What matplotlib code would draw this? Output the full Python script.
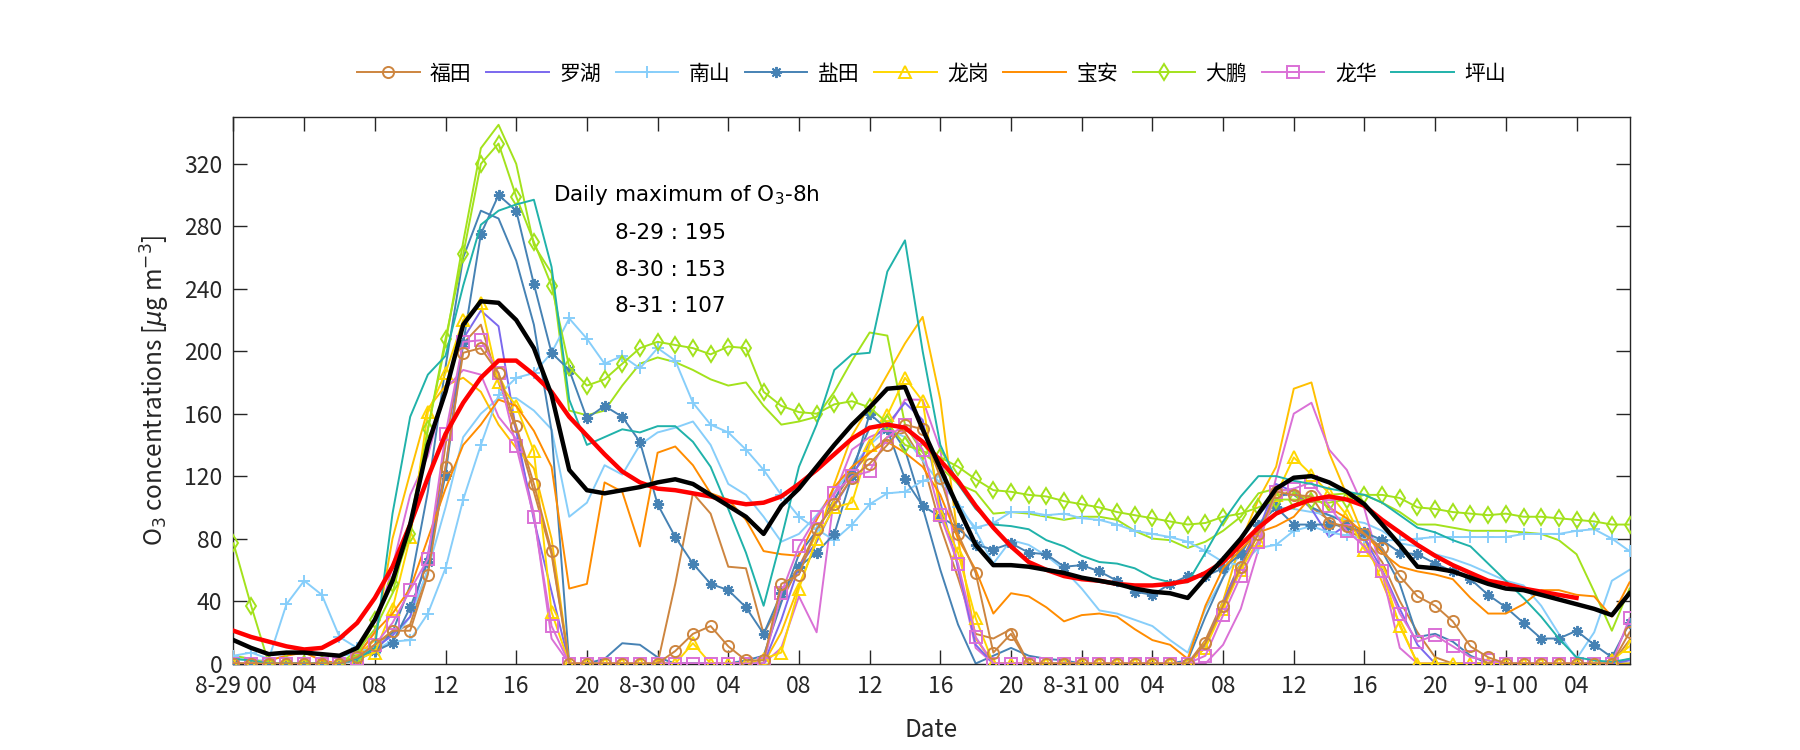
import numpy as np
import matplotlib
matplotlib.use('Agg')
import matplotlib.pyplot as plt

plt.rcParams['font.family'] = ['Liberation Sans Narrow', 'Noto Sans CJK SC', 'DejaVu Sans']

hours = np.arange(80)

# hourly O3 at each station, 8-29 00 .. 9-1 07
futian = [0, 0, 0, 0, 0, 0, 0, 4, 12, 21, 21, 57, 126, 199, 202, 186, 152, 115, 72, 0,
          0, 0, 0, 0, 0, 8, 19, 24, 11, 2, 2, 51, 57, 86, 102, 119, 128, 140, 153, 150,
          119, 83, 58, 7, 19, 0, 0, 0, 0, 0, 0, 0, 0, 0, 0, 13, 37, 62, 83, 110,
          108, 107, 90, 88, 83, 74, 56, 43, 37, 27, 11, 4, 0, 0, 0, 0, 0, 0, 0, 20]
luohu = [0, 0, 0, 0, 0, 0, 0, 3, 10, 18, 30, 70, 125, 208, 226, 216, 149, 92, 46, 0,
         0, 0, 0, 0, 0, 0, 0, 0, 0, 0, 0, 28, 62, 78, 101, 119, 142, 153, 167, 156,
         103, 62, 12, 0, 0, 0, 0, 0, 0, 0, 0, 0, 0, 0, 0, 12, 39, 64, 85, 115,
         110, 99, 81, 89, 80, 60, 35, 12, 0, 0, 0, 0, 0, 0, 0, 0, 0, 0, 0, 2]
nanshan = [5, 7, 3, 38, 53, 44, 17, 10, 7, 14, 15, 32, 61, 105, 140, 172, 183, 186, 199, 221,
           208, 192, 197, 189, 202, 194, 167, 153, 148, 137, 124, 108, 94, 86, 79, 89, 102, 109, 110, 117,
           120, 100, 87, 90, 97, 97, 95, 96, 93, 92, 89, 85, 83, 81, 78, 72, 65, 63, 74, 76,
           85, 88, 84, 82, 80, 79, 79, 80, 81, 81, 81, 81, 81, 83, 83, 83, 85, 86, 80, 72]
yantian = [0, 0, 0, 0, 0, 0, 0, 3, 8, 13, 36, 65, 121, 205, 275, 300, 290, 243, 199, 188,
           157, 165, 158, 142, 102, 81, 64, 51, 47, 36, 19, 45, 62, 71, 83, 120, 160, 150, 118, 101,
           94, 87, 76, 73, 77, 71, 70, 62, 63, 59, 53, 46, 44, 51, 56, 56, 61, 70, 89, 100,
           89, 89, 89, 88, 84, 79, 71, 70, 64, 59, 54, 44, 36, 26, 16, 16, 21, 12, 4, 26]
longgang = [0, 0, 0, 0, 0, 0, 0, 3, 7, 35, 81, 161, 186, 220, 231, 180, 165, 136, 33, 0,
            0, 0, 0, 0, 0, 0, 13, 0, 0, 0, 3, 7, 48, 80, 100, 103, 140, 159, 183, 168,
            96, 71, 29, 0, 0, 0, 0, 0, 0, 0, 0, 0, 0, 0, 0, 10, 35, 60, 79, 108,
            132, 121, 109, 95, 73, 59, 24, 0, 0, 0, 0, 0, 0, 0, 0, 0, 0, 0, 2, 11]
baoan = [0, 0, 2, 5, 7, 2, 0, 5, 20, 32, 48, 80, 112, 140, 153, 169, 165, 149, 126, 48,
         51, 116, 110, 75, 135, 139, 127, 109, 105, 92, 72, 70, 69, 92, 113, 126, 135, 142, 135, 126,
         108, 80, 60, 32, 45, 43, 36, 27, 31, 32, 30, 22, 15, 12, 3, 37, 61, 73, 84, 88,
         94, 107, 100, 93, 83, 71, 62, 59, 57, 54, 42, 32, 32, 38, 47, 47, 44, 43, 30, 52]
dapeng = [77, 37, 0, 0, 0, 0, 0, 5, 28, 51, 83, 150, 208, 262, 320, 333, 299, 270, 242, 190,
          178, 182, 192, 202, 206, 204, 202, 198, 203, 202, 174, 165, 161, 160, 166, 168, 164, 154, 140, 136,
          132, 126, 118, 111, 110, 108, 107, 104, 102, 100, 97, 95, 93, 91, 89, 90, 94, 96, 100, 105,
          105, 104, 103, 105, 108, 108, 106, 100, 99, 97, 96, 95, 96, 94, 94, 93, 92, 91, 89, 89]
longhua = [0, 0, 0, 0, 0, 0, 0, 3, 12, 26, 47, 67, 147, 206, 207, 186, 139, 94, 24, 0,
           0, 0, 0, 0, 0, 0, 0, 0, 0, 0, 0, 45, 75, 94, 109, 120, 123, 145, 153, 137,
           95, 64, 17, 0, 0, 0, 0, 0, 0, 0, 0, 0, 0, 0, 0, 5, 31, 56, 78, 110,
           112, 116, 101, 85, 75, 59, 32, 14, 18, 11, 4, 2, 0, 0, 0, 0, 0, 0, 0, 29]
pingshan = [3, 2, 0, 0, 0, 0, 0, 3, 10, 96, 158, 185, 197, 242, 281, 290, 294, 297, 254, 169,
            140, 145, 150, 148, 152, 152, 142, 126, 99, 71, 37, 80, 126, 153, 188, 198, 199, 251, 271, 200,
            140, 115, 99, 89, 88, 86, 79, 75, 69, 65, 64, 61, 55, 52, 52, 71, 91, 107, 120, 120,
            117, 115, 112, 110, 108, 103, 95, 87, 84, 79, 75, 64, 53, 42, 30, 16, 4, 2, 1, 3]

# second set of curves, same colours, no markers
futian_b = [0, 0, 0, 0, 0, 0, 0, 5, 12, 20, 25, 60, 140, 205, 217, 180, 150, 110, 70, 0,
            0, 0, 0, 0, 0, 51, 109, 96, 62, 61, 19, 40, 62, 85, 105, 122, 135, 145, 148, 130,
            88, 55, 19, 16, 22, 0, 0, 0, 0, 0, 0, 0, 0, 0, 0, 15, 40, 65, 88, 105,
            112, 100, 92, 85, 80, 65, 40, 20, 4, 0, 0, 0, 0, 0, 0, 0, 0, 0, 0, 15]
nanshan_b = [3, 2, 2, 5, 8, 6, 5, 6, 8, 15, 30, 60, 100, 145, 160, 170, 170, 162, 150, 94,
             103, 127, 121, 140, 148, 151, 155, 140, 115, 108, 94, 78, 83, 95, 110, 125, 140, 150, 145, 130,
             115, 103, 85, 64, 79, 76, 69, 60, 48, 34, 32, 28, 24, 15, 7, 35, 55, 70, 90, 100,
             99, 97, 95, 92, 90, 85, 77, 75, 70, 67, 63, 58, 53, 50, 37, 19, 3, 20, 53, 60]
yantian_b = [0, 0, 0, 0, 0, 0, 0, 2, 8, 20, 50, 110, 190, 260, 290, 285, 258, 217, 149, 0,
             0, 3, 13, 12, 4, 0, 0, 0, 0, 2, 5, 39, 70, 85, 105, 125, 151, 154, 137, 100,
             60, 25, 0, 5, 10, 5, 3, 2, 0, 0, 0, 0, 0, 0, 2, 30, 55, 80, 95, 108,
             108, 100, 95, 90, 85, 72, 51, 17, 19, 14, 5, 0, 0, 0, 0, 0, 0, 0, 0, 0]
longgang_b = [0, 0, 0, 0, 0, 0, 0, 5, 15, 80, 122, 163, 178, 183, 174, 153, 138, 125, 80, 0,
              0, 0, 0, 0, 0, 0, 0, 0, 0, 0, 0, 20, 50, 78, 115, 146, 165, 185, 205, 222,
              169, 80, 16, 0, 0, 0, 0, 0, 0, 0, 0, 0, 0, 0, 0, 10, 40, 78, 105, 126,
              176, 180, 135, 108, 80, 52, 25, 0, 0, 0, 0, 0, 0, 0, 0, 0, 0, 0, 0, 0]
dapeng_b = [5, 3, 0, 0, 0, 0, 0, 8, 22, 45, 90, 150, 205, 270, 330, 345, 320, 268, 250, 162,
            159, 162, 178, 192, 196, 193, 188, 182, 178, 180, 165, 153, 155, 158, 174, 194, 212, 210, 153, 135,
            126, 115, 110, 96, 97, 96, 94, 92, 94, 94, 92, 85, 80, 79, 74, 78, 85, 94, 109, 112,
            110, 104, 108, 109, 108, 103, 97, 89, 89, 87, 85, 85, 85, 84, 83, 79, 70, 46, 21, 48]
longhua_b = [0, 0, 0, 0, 0, 0, 0, 5, 20, 62, 108, 133, 176, 188, 185, 158, 144, 96, 16, 0,
             0, 0, 0, 0, 0, 0, 0, 0, 0, 0, 0, 10, 43, 20, 108, 137, 145, 150, 169, 169,
             137, 60, 10, 0, 0, 0, 0, 0, 0, 0, 0, 0, 0, 0, 0, 0, 12, 35, 73, 119,
             160, 167, 137, 124, 99, 58, 10, 0, 0, 0, 0, 0, 0, 0, 0, 0, 0, 0, 0, 3]

# city mean and 8h running mean
mean_all = [15, 10, 6, 7, 7, 6, 5, 10, 28, 53, 89, 140, 174, 217, 232, 231, 220, 202, 172, 124,
            111, 109, 111, 113, 116, 118, 115, 108, 101, 94, 83, 101, 112, 126, 140, 153, 164, 176, 177, 150,
            125, 100, 76, 63, 63, 62, 60, 58, 55, 53, 51, 48, 46, 45, 42, 55, 67, 80, 96, 112,
            119, 120, 116, 110, 102, 89, 76, 62, 61, 59, 55, 51, 48, 47, 44, 41, 38, 35, 31, 45]
mean_8h = [21, 17, 14, 11, 9, 10, 16, 26, 42, 62, 89, 119, 147, 167, 183, 194, 194, 185, 174, 158,
           146, 134, 123, 116, 112, 111, 109, 107, 104, 102, 103, 107, 115, 124, 134, 144, 151, 153, 151, 142,
           130, 117, 101, 87, 75, 65, 60, 56, 54, 53, 51, 50, 50, 51, 53, 58, 65, 76, 87, 96,
           101, 105, 107, 105, 101, 92, 84, 76, 69, 63, 58, 53, 51, 48, 46, 44, 42, np.nan, np.nan, np.nan]

names = ['福田', '罗湖', '南山', '盐田', '龙岗', '宝安', '大鹏', '龙华', '坪山']
series = [futian, luohu, nanshan, yantian, longgang, baoan, dapeng, longhua, pingshan]
colors = ['#CD853F', '#7B68EE', '#87CEFA', '#4682B4', '#FFD700',
          '#FF8C00', '#A3E21C', '#DA70D6', '#20B2AA']
markers = ['o', None, '+', (8, 2, 0), '^', None, 'd', 's', None]

twins = [futian_b, nanshan_b, yantian_b, longgang_b, dapeng_b, longhua_b]
twin_colors = ['#CD853F', '#87CEFA', '#4682B4', '#FFC000', '#A3E21C', '#DA70D6']

fig = plt.figure(figsize=(18, 7.5), dpi=100)
ax = fig.add_axes([0.1297, 0.1153, 0.7756, 0.7287])

for y, c in zip(twins, twin_colors):
    ax.plot(hours, y, color=c, lw=1.4, zorder=2)

for i, (y, name, c, m) in enumerate(zip(series, names, colors, markers)):
    ax.plot(hours, y, color=c, lw=1.4, marker=m, markersize=8,
            markerfacecolor='none', markeredgewidth=1.4, label=name,
            zorder=4 if i == 0 else 3)

ax.plot(hours, mean_8h, color='red', lw=3.2, zorder=5)
ax.plot(hours, mean_all, color='black', lw=3.2, zorder=5)

xt = np.arange(0, 80, 4)
days = ['8-29', '8-30', '8-31', '9-1']
xlabels = []
for h in xt:
    if h % 24 == 0:
        xlabels.append('%s 00' % days[h // 24])
    else:
        xlabels.append('%02d' % (h % 24))
ax.set_xticks(xt)
ax.set_xticklabels(xlabels)
ax.set_yticks(np.arange(0, 321, 40))
ax.set_xlim(0, 79)
ax.set_ylim(0, 350)

ax.tick_params(direction='in', length=10, width=1, top=True, right=True,
               labelsize=16.5, colors='#262626', pad=8)
for s in ax.spines.values():
    s.set_color('#262626')
    s.set_linewidth(1)

ax.set_xlabel('Date', fontsize=17.5, color='#262626', labelpad=14)
ax.set_ylabel(r'O$_3$ concentrations [$\mu$g m$^{-3}$]', fontsize=17.5, color='#262626', labelpad=9)

tfont = dict(family='DejaVu Sans', fontsize=15.5, color='black', va='center')
ax.text(18.1, 300, 'Daily maximum of O$_3$-8h', **tfont)
ax.text(21.6, 276, '8-29 : 195', **tfont)
ax.text(21.6, 252, '8-30 : 153', **tfont)
ax.text(21.6, 229, '8-31 : 107', **tfont)

leg = ax.legend(loc='center', bbox_to_anchor=(0.5175, 0.902), bbox_transform=fig.transFigure,
                ncol=9, frameon=False, fontsize=15, handlelength=3.0,
                handletextpad=0.5, columnspacing=0.7)

fig.savefig('out.png', dpi=100, facecolor='white')
